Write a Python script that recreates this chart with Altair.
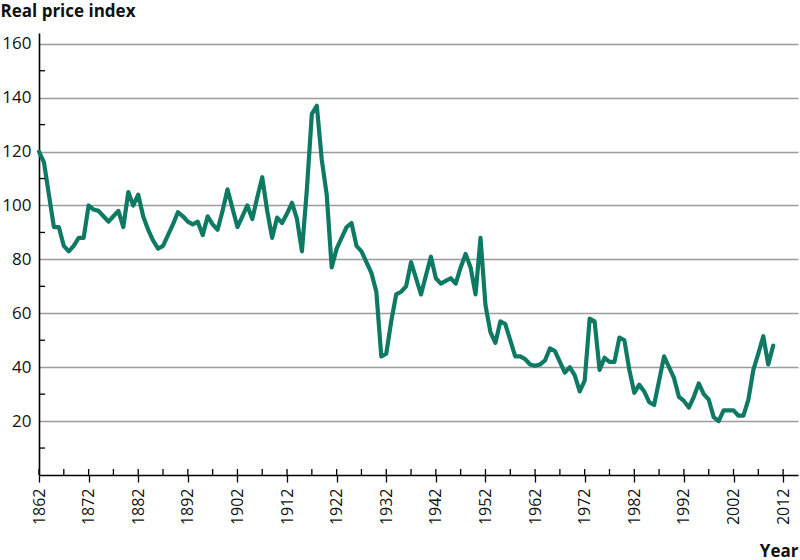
import altair as alt
import pandas as pd

years = list(range(1862, 2011))
values = [
    120, 116, 104, 92, 92, 85, 83, 85, 88, 88,          # 1862-1871
    100, 98.5, 98, 96, 94, 96, 98, 92, 105, 100,         # 1872-1881
    104, 96, 91, 87, 84, 85, 89, 93, 97.5, 96,           # 1882-1891
    94, 93, 94, 89, 96, 93, 91, 98, 106, 99,             # 1892-1901
    92, 96, 100, 95, 103, 110.5, 98, 88, 95.5, 93.5,     # 1902-1911
    97, 101, 95, 83, 106, 134, 137, 117, 104, 77,        # 1912-1921
    84, 88, 92, 93.5, 85, 83, 79, 75, 68, 44,            # 1922-1931
    45, 57, 67, 68, 70, 79, 73, 67, 74, 81,              # 1932-1941
    73, 71, 72, 73, 71, 77, 82, 77, 67, 88,              # 1942-1951
    63, 53, 49, 57, 56, 50, 44, 44, 43, 41,              # 1952-1961
    40.5, 41, 42.5, 47, 46, 42, 38, 40, 37, 31,          # 1962-1971
    35, 58, 57, 39, 43.5, 42, 42, 51, 50, 39,            # 1972-1981
    30.5, 33.5, 31, 27, 26, 35, 44, 40, 36, 29,          # 1982-1991
    27.5, 25, 29, 34, 30, 28, 21.5, 20, 24, 24,          # 1992-2001
    24, 22, 22, 28, 39, 45, 51.5, 41, 48,                # 2002-2010
]

x_major_ticks = list(range(1862, 2013, 10))
x_all_ticks = list(range(1862, 2013, 5))
y_major_ticks = list(range(20, 161, 20))
y_minor_ticks = list(range(10, 151, 20))

W, H = 759, 442
FONT = "Open Sans"

df = pd.DataFrame({"year": years, "value": values})
df_xt = pd.DataFrame({"year": x_all_ticks})
df_yt = pd.DataFrame({"value": y_minor_ticks})

xscale = alt.Scale(domain=[1862, 2015], nice=False, zero=False)
yscale = alt.Scale(domain=[0, 164], nice=False, zero=False)

line = alt.Chart(df).mark_line(
    color="#0f7a63", strokeWidth=4.2, strokeJoin="round", strokeCap="round"
).encode(
    x=alt.X("year:Q", scale=xscale, axis=alt.Axis(
        values=x_major_ticks, format="d", labelAngle=-90, labelFontSize=16,
        labelColor="#111111", labelFont=FONT, labelPadding=6, labelOverlap=False,
        labelFlush=False, tickSize=7, tickColor="#000000", tickWidth=1.3,
        domainColor="#000000", domainWidth=1.6, grid=False,
        title="Year", titleX=W, titleY=81, titleAlign="right",
        titleBaseline="alphabetic", titleFontWeight="bold", titleFontSize=17,
        titleFont=FONT, titleColor="#111111")),
    y=alt.Y("value:Q", scale=yscale, axis=alt.Axis(
        values=y_major_ticks, grid=True, gridColor="#9c9c9c", gridWidth=1.6,
        ticks=False, labelPadding=8, labelFontSize=17, labelFont=FONT,
        labelColor="#111111", domainColor="#000000", domainWidth=1.6,
        title="Real price index", titleAngle=0, titleAlign="left",
        titleX=-39, titleY=-17, titleBaseline="alphabetic",
        titleFontWeight="bold", titleFontSize=17, titleFont=FONT,
        titleColor="#111111")),
)

xticks = alt.Chart(df_xt).mark_rule(color="#000000", strokeWidth=1.3).encode(
    x=alt.X("year:Q", scale=xscale),
    y=alt.value(H),
    y2=alt.value(H - 6),
)

yticks = alt.Chart(df_yt).mark_rule(color="#000000", strokeWidth=1.3).encode(
    y=alt.Y("value:Q", scale=yscale),
    x=alt.value(0),
    x2=alt.value(6),
)

chart = alt.layer(line, xticks, yticks).properties(
    width=W, height=H,
    padding={"left": 39, "top": 33, "right": 2, "bottom": 85},
    autosize="none",
    background="white",
).configure_view(stroke=None)

chart.save("out.html", embed_options={"renderer": "svg", "actions": False})
